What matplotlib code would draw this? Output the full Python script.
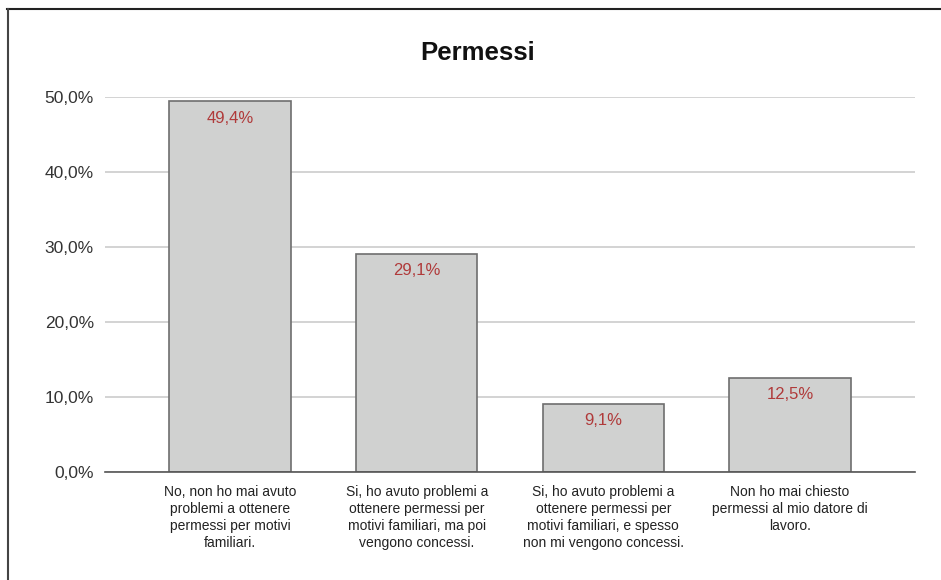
import matplotlib.pyplot as plt
from matplotlib.lines import Line2D
from matplotlib.ticker import FuncFormatter

categories = [
    "No, non ho mai avuto\nproblemi a ottenere\npermessi per motivi\nfamiliari.",
    "Si, ho avuto problemi a\nottenere permessi per\nmotivi familiari, ma poi\nvengono concessi.",
    "Si, ho avuto problemi a\nottenere permessi per\nmotivi familiari, e spesso\nnon mi vengono concessi.",
    "Non ho mai chiesto\npermessi al mio datore di\nlavoro.",
]
values = [49.4, 29.1, 9.1, 12.5]
y_ticks = [0, 10, 20, 30, 40, 50]

narrow = ["Liberation Sans Narrow", "Liberation Sans", "DejaVu Sans"]
plt.rcParams["font.family"] = ["Liberation Sans", "DejaVu Sans"]

fig = plt.figure(figsize=(9.41, 5.80), dpi=100)
ax = fig.add_axes([0.1116, 0.1862, 0.8608, 0.6466])

x = range(len(values))
bars = ax.bar(x, values, width=0.65, color="#d0d1d0", edgecolor="#6e6e6e",
              linewidth=1.2, zorder=3)

# percentuali dentro le barre, sotto il bordo superiore
for bar, v in zip(bars, values):
    ax.annotate(f"{v:.1f}%".replace(".", ","),
                xy=(bar.get_x() + bar.get_width() / 2, v),
                xytext=(0, -12), textcoords="offset points",
                ha="center", va="center", fontsize=12, color="#b03a3a",
                zorder=4)

ax.set_xlim(-0.67, 3.67)
ax.set_ylim(0, 50)
ax.set_yticks(y_ticks)
ax.yaxis.set_major_formatter(FuncFormatter(lambda v, p: f"{v:.1f}%".replace(".", ",")))
ax.tick_params(axis="y", length=0, pad=8, labelsize=12.5, labelcolor="#333333")
ax.grid(axis="y", color="#cccccc", linewidth=1.2, zorder=0)

ax.set_xticks(list(x))
ax.set_xticklabels(categories, fontsize=10, family=narrow, color="#222222",
                   linespacing=1.28)
ax.tick_params(axis="x", length=0, pad=9)

for side in ["top", "right", "left"]:
    ax.spines[side].set_visible(False)
ax.spines["bottom"].set_color("#555555")
ax.spines["bottom"].set_linewidth(1.2)
ax.spines["bottom"].set_zorder(5)

fig.text(0.508, 0.908, "Permessi", ha="center", va="center", fontsize=18.5,
         fontweight="bold", family=narrow, color="#111111")

# cornice sopra e a sinistra
fig.add_artist(Line2D([7 / 941, 1], [1 - 9 / 580, 1 - 9 / 580],
                      transform=fig.transFigure, color="#222222", linewidth=1.5))
fig.add_artist(Line2D([7.5 / 941, 7.5 / 941], [0, 1 - 9 / 580],
                      transform=fig.transFigure, color="#444444", linewidth=1.5))

fig.savefig("out.png", dpi=100)
